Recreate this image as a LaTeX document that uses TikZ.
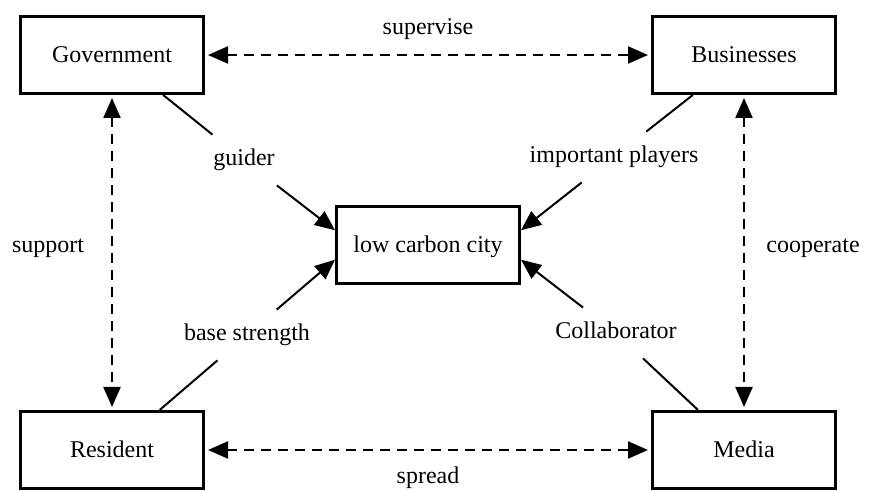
\documentclass[tikz,border=0pt]{standalone}
\usepackage{fontspec}
\setmainfont{Liberation Serif}
\usetikzlibrary{arrows.meta}
\begin{document}
\begin{tikzpicture}[x=0.5pt,y=-0.5pt,
  box/.style={draw,line width=1.5pt,minimum width=91.5pt,minimum height=38.5pt,inner sep=0pt,
    font=\fontsize{12}{14}\selectfont,text height=8pt,text depth=0pt},
  lbl/.style={font=\fontsize{12}{14}\selectfont,text height=8.5pt,text depth=2.5pt,inner xsep=1pt,inner ysep=7pt},
  dashlink/.style={line width=1.1pt,dash pattern=on 4.75pt off 3.75pt,
    {Triangle[length=10pt,width=8.5pt]}-{Triangle[length=10pt,width=8.5pt]},
    shorten <=1.5pt,shorten >=1.5pt},
  feed/.style={line width=1pt,-{Triangle[length=10pt,width=8.5pt]}},
  plain/.style={line width=1pt}
]
\useasboundingbox (0,0) rectangle (874,491);

\node[box] (gov)  at (112,55)  {Government};
\node[box] (bus)  at (744,55)  {Businesses};
\node[box] (res)  at (112,450) {Resident};
\node[box] (med)  at (744,450) {Media};
\node[box] (city) at (428,245) {low carbon city};

\node[lbl] (sup)  at (428,29)  {supervise};
\node[lbl] (spr)  at (428,478) {spread};
\node[lbl] (supp) at (48,247)  {support};
\node[lbl] (coop) at (813,247) {cooperate};
\node[lbl] (gui)  at (244,160) {guider};
\node[lbl] (imp)  at (614,157) {important players};
\node[lbl] (bas)  at (247,335) {base strength};
\node[lbl] (col)  at (616,333) {Collaborator};

\draw[dashlink] (gov) -- (bus);
\draw[dashlink] (gov) -- (res);
\draw[dashlink] (bus) -- (med);
\draw[dashlink] (res) -- (med);

\draw[plain] (gov.-38) -- (gui);
\draw[feed]  (gui) -- (city.171);
\draw[plain] (bus.218) -- (imp);
\draw[feed]  (imp) -- (city.9);
\draw[plain] (res.40) -- (bas);
\draw[feed]  (bas) -- (city.189);
\draw[plain] (med.139) -- (col);
\draw[feed]  (col) -- (city.351);
\end{tikzpicture}
\end{document}
